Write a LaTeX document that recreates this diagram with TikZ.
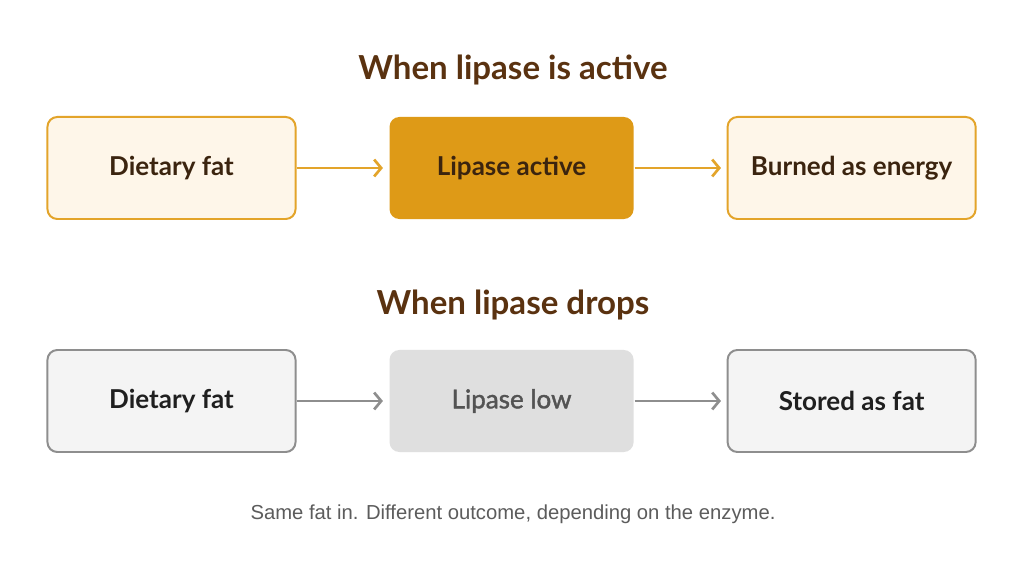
\documentclass[tikz,border=0pt]{standalone}
\usepackage{fontspec}
\setmainfont{Lato}
\newfontfamily\notefont{Liberation Sans}
\newfontfamily\midfont[FakeBold=1.5]{Lato}
\usetikzlibrary{positioning,arrows.meta}
\definecolor{lipaseorange}{HTML}{E3A42A}
\definecolor{lipasefill}{HTML}{FEF6E9}
\definecolor{lipasedark}{HTML}{DE9A17}
\definecolor{fatbrown}{HTML}{3B240F}
\definecolor{titlebrown}{HTML}{5A3210}
\definecolor{lowborder}{HTML}{8E8E8E}
\definecolor{lowfill}{HTML}{F4F4F4}
\definecolor{lowmid}{HTML}{DFDFDF}
\definecolor{lowtext}{HTML}{1F1F1F}
\definecolor{notegray}{HTML}{5C5C5C}

\tikzset{
  fatbox/.style={rounded corners=7pt,line width=1.4pt,minimum width=6.2cm,minimum height=2.55cm,
    font=\fontsize{18.5}{22}\selectfont\bfseries,align=center},
  flowarrow/.style={line width=1.9pt,-{Straight Barb[length=5pt,width=12pt,line width=1.9pt]},shorten >=4pt},
  heading/.style={font=\fontsize{23.5}{28}\selectfont\bfseries,text=titlebrown}
}

\begin{document}
\begin{tikzpicture}[x=0.025cm,y=-0.025cm,node distance=2.3cm]
\useasboundingbox[fill=white](0,0) rectangle (1024,576);

% active lipase
\node[heading] (headA) at (513,70) {When lipase is active};
\node[fatbox,draw=lipaseorange,fill=lipasefill,text=fatbrown] (fatA) at (171.5,168) {Dietary fat};
\node[fatbox,fill=lipasedark,text=fatbrown,right=of fatA,minimum width=6.1cm] (lipA) {Lipase active};
\node[fatbox,draw=lipaseorange,fill=lipasefill,text=fatbrown,right=of lipA] (energyA) {Burned as energy};
\draw[flowarrow,lipaseorange] (fatA)--(lipA);
\draw[flowarrow,lipaseorange] (lipA)--(energyA);

% low lipase
\node[heading] (headB) at (513,305) {When lipase drops};
\node[fatbox,draw=lowborder,fill=lowfill,text=lowtext] (fatB) at (171.5,401) {Dietary fat};
\node[fatbox,fill=lowmid,text=notegray!90!black,font=\midfont\fontsize{18.5}{22}\selectfont,right=of fatB,minimum width=6.1cm] (lipB) {Lipase low};
\node[fatbox,draw=lowborder,fill=lowfill,text=lowtext,right=of lipB] (storeB) {Stored as fat};
\draw[flowarrow,lowborder] (fatB)--(lipB);
\draw[flowarrow,lowborder] (lipB)--(storeB);

\node[font=\notefont\fontsize{14.4}{17}\selectfont,text=notegray] (note) at (513,514)
  {Same fat in. Different outcome, depending on the enzyme.};
\end{tikzpicture}
\end{document}
